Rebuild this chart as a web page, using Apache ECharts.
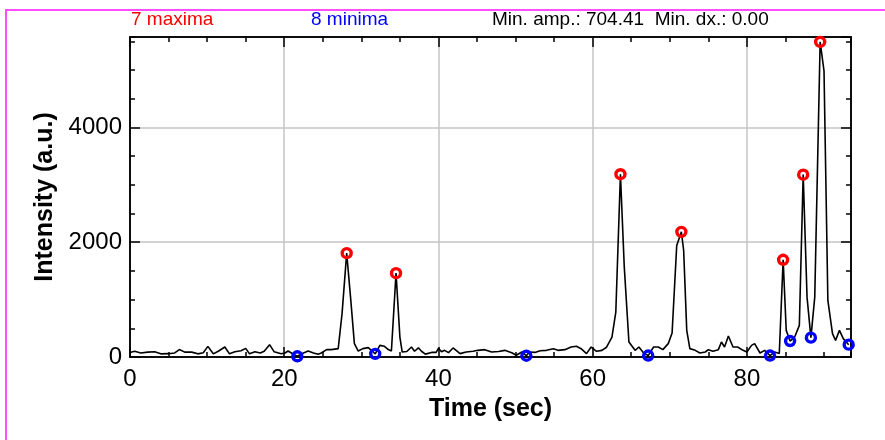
<!DOCTYPE html>
<html>
<head>
<meta charset="utf-8">
<script src="https://cdn.jsdelivr.net/npm/echarts@6/dist/echarts.min.js"></script>
<style>
html,body{margin:0;padding:0;background:#fff;}
#chart{width:885px;height:440px;}
</style>
</head>
<body>
<div id="chart"></div>
<script>
// ---- data ----
var times = [0.0,0.6,1.4,2.3,3.2,4.0,5.0,5.8,6.4,7.1,8.0,8.8,9.5,10.1,10.8,11.5,12.3,12.9,13.6,14.4,15.0,15.5,16.2,16.9,17.4,18.1,18.7,19.6,
  20.1,20.5,21.2,21.7,22.5,23.1,23.8,24.4,24.8,25.5,26.1,27.0,27.5,28.1,28.6,29.1,29.6,30.2,30.9,31.4,31.8,32.4,33.0,33.5,33.9,34.5,35.0,35.3,35.9,36.5,36.9,37.4,37.8,38.3,39.1,39.7,
  40.0,40.4,40.8,41.3,41.9,42.8,43.6,44.5,45.1,46.0,46.9,47.8,48.6,49.5,50.1,50.8,51.4,51.8,52.5,53.2,54.0,54.9,55.5,56.4,57.2,57.9,58.5,59.2,59.8,
  60.5,61.2,61.8,62.5,63.0,63.6,64.1,64.7,65.5,66.0,66.6,67.2,67.9,68.5,69.1,69.8,70.3,70.9,71.5,71.8,72.2,72.6,73.3,73.9,74.6,75.0,75.6,76.3,76.7,77.1,77.6,78.2,78.8,79.5,
  80.0,80.6,81.0,81.7,82.3,83.0,83.6,84.2,84.7,85.1,85.6,86.2,86.8,87.3,87.8,88.3,88.8,89.5,90.0,90.5,91.1,91.5,92.0,92.5,93.2];
var intensity = [80,100,70,85,92,55,58,70,130,85,85,55,75,185,55,105,175,55,90,110,150,55,90,70,100,215,90,55,
  70,104,47,12,70,104,70,47,70,128,128,146,755,1809,1043,233,104,146,163,104,55,203,186,130,104,1461,348,87,95,174,100,160,100,50,80,80,
  150,90,116,76,157,59,87,99,116,128,87,95,116,75,30,87,22,87,80,110,116,145,116,128,174,186,145,59,174,
  100,116,170,348,783,3185,1565,261,116,174,70,25,174,174,128,233,417,1943,2180,1855,464,146,116,70,87,128,100,128,261,174,365,174,174,116,
  87,203,233,70,116,25,87,60,1694,464,278,348,551,3177,1043,337,1043,5490,4986,986,407,290,464,320,215];
var maxTimes = [28.1,34.5,63.6,71.5,84.7,87.3,89.5];
var maxValues = [1809,1461,3185,2180,1694,3177,5490];
var minTimes = [21.7,31.8,51.4,67.2,83.0,85.6,88.3,93.2];
var minValues = [12,55,22,25,25,278,337,215];
var xTicks = [0,20,40,60,80];
var yTicks = [0,2000,4000];
var headerMax = '7 maxima';
var headerMin = '8 minima';
var headerInfo = 'Min. amp.: 704.41  Min. dx.: 0.00';

// ---- build ----
function pairs(a, b){ var r=[]; for(var i=0;i<a.length;i++) r.push([a[i], b[i]]); return r; }
var FONT = "'Liberation Sans', Helvetica, Arial, sans-serif";
var XMIN = 0, XMAX = 93.5, YMIN = 0, YMAX = 5575;

function xAx(pos, major, show){
  return {
    type:'value', position:pos, min:XMIN, max:XMAX, interval: major?20:5,
    axisLine:{show:true, onZero:false, lineStyle:{color:'#000', width:1.5}},
    axisTick:{show:true, inside:true, length: major?10:5, lineStyle:{color:'#000', width:1.5}},
    axisLabel:{show:show, showMaxLabel:false, color:'#000', fontSize:24, fontFamily:FONT, margin:10,
      formatter:function(v){ return xTicks.indexOf(v)>=0 ? String(v) : ''; }},
    splitLine:{show: show, lineStyle:{color:'#c4c4c4', width:1.5}},
    name: show ? 'Time (sec)' : '', nameLocation:'middle', nameGap:40,
    nameTextStyle:{color:'#000', fontSize:25, fontWeight:'bold', fontFamily:FONT}
  };
}
function yAx(pos, major, show){
  return {
    type:'value', position:pos, min:YMIN, max:YMAX, interval: major?2000:500,
    axisLine:{show:true, onZero:false, lineStyle:{color:'#000', width:1.5}},
    axisTick:{show:true, inside:true, length: major?10:5, lineStyle:{color:'#000', width:1.5}},
    axisLabel:{show:show, showMaxLabel:false, color:'#000', fontSize:24, fontFamily:FONT, margin:8,
      formatter:function(v){ return yTicks.indexOf(v)>=0 ? String(v) : ''; }},
    splitLine:{show: show, lineStyle:{color:'#c4c4c4', width:1.5}},
    name: show ? 'Intensity (a.u.)' : '', nameLocation:'middle', nameGap:72,
    nameTextStyle:{color:'#000', fontSize:25, fontWeight:'bold', fontFamily:FONT}
  };
}

var chart = echarts.init(document.getElementById('chart'), null, {renderer:'canvas'});
chart.setOption({
  animation:false,
  backgroundColor:'#fff',
  grid:{left:130, right:34, top:37, bottom:83, containLabel:false},
  xAxis:[xAx('bottom',true,true), xAx('bottom',false,false), xAx('top',true,false), xAx('top',false,false)],
  yAxis:[yAx('left',true,true), yAx('left',false,false), yAx('right',true,false), yAx('right',false,false)],
  graphic:[
    {type:'rect', shape:{x:6, y:10, width:1000, height:1000}, style:{fill:'none', stroke:'#ff4dff', lineWidth:2}, z:100},
    {type:'text', left:131, top:10, style:{text:headerMax, fill:'#ff0000', font:'19px '+FONT}},
    {type:'text', left:311, top:10, style:{text:headerMin, fill:'#0000ff', font:'19px '+FONT}},
    {type:'text', left:492, top:10, style:{text:headerInfo, fill:'#000', font:'19px '+FONT}}
  ],
  series:[
    {type:'line', data:pairs(times, intensity), showSymbol:false, symbol:'none',
     lineStyle:{color:'#000', width:1.6}, xAxisIndex:0, yAxisIndex:0, z:3},
    {type:'scatter', data:pairs(maxTimes, maxValues), symbol:'circle', symbolSize:9,
     itemStyle:{color:'rgba(0,0,0,0)', borderColor:'#ff0000', borderWidth:3.4, opacity:1}, xAxisIndex:0, yAxisIndex:0, z:4},
    {type:'scatter', data:pairs(minTimes, minValues), symbol:'circle', symbolSize:9,
     itemStyle:{color:'rgba(0,0,0,0)', borderColor:'#0000ff', borderWidth:3.4, opacity:1}, xAxisIndex:0, yAxisIndex:0, z:4}
  ]
});
</script>
</body>
</html>
